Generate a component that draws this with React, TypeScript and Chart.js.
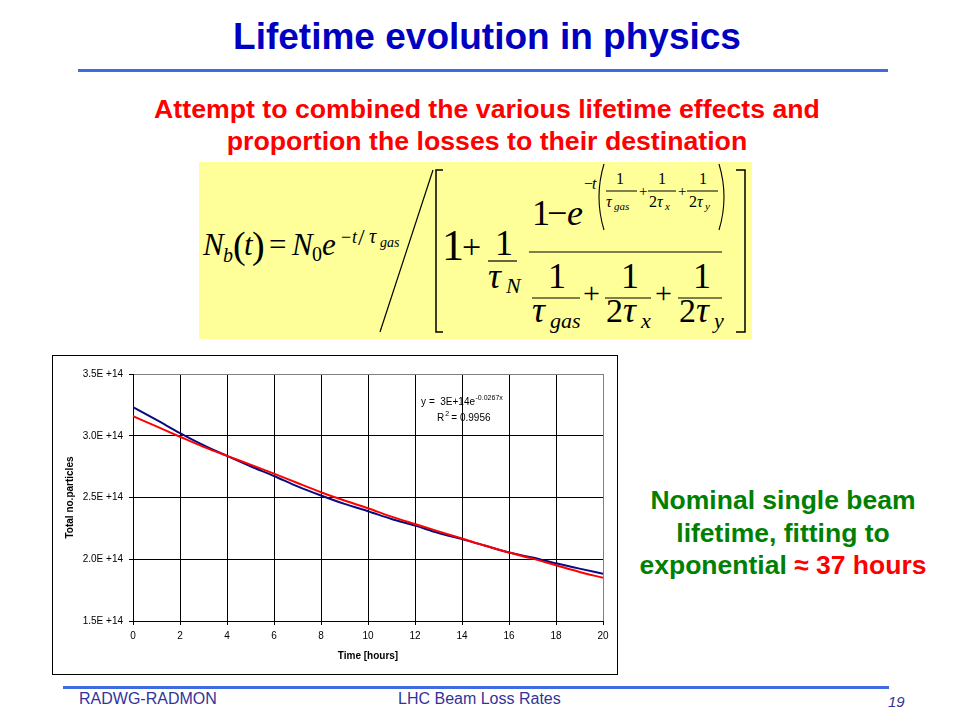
import React, { useEffect, useRef } from "react";
import { Chart, registerables } from "chart.js";

Chart.register(...registerables);

// ---- data ----
const HOURS = [0, 1, 2, 3, 4, 5, 6, 7, 8, 9, 10, 11, 12, 13, 14, 15, 16, 17, 18, 19, 20];
// simulated total number of particles (units of 1E14)
const SIMULATED = [3.231, 3.128, 3.022, 2.924, 2.837, 2.753, 2.674, 2.59, 2.516, 2.448, 2.389, 2.326, 2.272, 2.212, 2.163, 2.109, 2.054, 2.014, 1.967, 1.924, 1.883];
// exponential fit (units of 1E14)
const FIT = [3.158, 3.076, 2.992, 2.91, 2.837, 2.766, 2.693, 2.617, 2.543, 2.476, 2.413, 2.345, 2.285, 2.226, 2.168, 2.109, 2.054, 2.005, 1.951, 1.897, 1.85];
const X_TICKS = [0, 2, 4, 6, 8, 10, 12, 14, 16, 18, 20];
const Y_TICKS = [1.5e14, 2.0e14, 2.5e14, 3.0e14, 3.5e14];
const Y_TICK_LABELS = ["1.5E +14", "2.0E +14", "2.5E +14", "3.0E +14", "3.5E +14"];
const FIT_EQUATION = "y =  3E+14e";
const FIT_EXPONENT = "-0.0267x";
const FIT_R2 = "= 0.9956";
// annotation anchors in data units
const ANNOT_LINE1 = { x: 12.26, y: 3.25e14 };
const ANNOT_LINE2 = { x: 12.94, y: 3.12e14 };

const SANS = "'Liberation Sans', Arial, sans-serif";
const SERIF = "'Liberation Serif', 'Times New Roman', serif";

function ChartBox() {
  const ref = useRef<HTMLCanvasElement | null>(null);
  useEffect(() => {
    if (!ref.current) return;
    const annot = {
      id: "fitAnnot",
      afterDatasetsDraw(chart: any) {
        const { ctx, scales } = chart;
        const xs = scales.x, ys = scales.y;
        ctx.save();
        ctx.fillStyle = "#000";
        ctx.textBaseline = "alphabetic";
        ctx.textAlign = "left";
        ctx.font = `10px ${SANS}`;
        const x1 = xs.getPixelForValue(ANNOT_LINE1.x);
        const y1 = ys.getPixelForValue(ANNOT_LINE1.y);
        ctx.fillText(FIT_EQUATION, x1, y1);
        const w1 = ctx.measureText(FIT_EQUATION).width;
        ctx.font = `7px ${SANS}`;
        ctx.fillText(FIT_EXPONENT, x1 + w1 + 0.5, y1 - 5);
        const x2 = xs.getPixelForValue(ANNOT_LINE2.x);
        const y2 = ys.getPixelForValue(ANNOT_LINE2.y);
        ctx.font = `10px ${SANS}`;
        ctx.fillText("R", x2, y2);
        const wr = ctx.measureText("R").width;
        ctx.font = `7px ${SANS}`;
        ctx.fillText("2", x2 + wr + 1, y2 - 5);
        ctx.font = `10px ${SANS}`;
        ctx.fillText(FIT_R2, x2 + wr + 7, y2);
        ctx.restore();
      },
    };
    const chart = new Chart(ref.current, {
      type: "line",
      data: {
        datasets: [
          {
            label: "Fit",
            data: HOURS.map((h, i) => ({ x: h, y: FIT[i] * 1e14 })),
            borderColor: "#FF0000",
            borderWidth: 2,
            pointRadius: 0,
            cubicInterpolationMode: "monotone",
          },
          {
            label: "Simulation",
            data: HOURS.map((h, i) => ({ x: h, y: SIMULATED[i] * 1e14 })),
            borderColor: "#0A0A80",
            borderWidth: 2,
            pointRadius: 0,
            cubicInterpolationMode: "monotone",
          },
        ],
      },
      options: {
        animation: false,
        responsive: false,
        layout: { padding: { top: 18, right: 14, left: 0, bottom: 0 } },
        plugins: { legend: { display: false }, tooltip: { enabled: false } },
        scales: {
          x: {
            type: "linear",
            min: 0,
            max: 20,
            afterFit: (s: any) => { s.height = 53; },
            afterBuildTicks: (s: any) => { s.ticks = X_TICKS.map((v) => ({ value: v })); },
            ticks: {
              color: "#000",
              font: { family: SANS, size: 10 },
              padding: 5,
              maxRotation: 0,
              callback: (v: any) => String(v),
            },
            grid: {
              color: (c: any) => (c.tick && c.tick.value === 20 ? "#808080" : "#000"),
              tickColor: "#000",
              tickLength: 4,
              lineWidth: 1,
            },
            border: { display: true, color: "#000", width: 1 },
            title: {
              display: true,
              text: "Time [hours]",
              color: "#000",
              font: { family: SANS, size: 10, weight: "bold" },
              padding: { top: 0, bottom: 12 },
            },
          },
          y: {
            type: "linear",
            min: 1.5e14,
            max: 3.5e14,
            afterFit: (s: any) => { s.width = 80; },
            afterBuildTicks: (s: any) => { s.ticks = Y_TICKS.map((v) => ({ value: v })); },
            ticks: {
              color: "#000",
              font: { family: SANS, size: 10 },
              padding: 6,
              callback: (_v: any, i: number) => Y_TICK_LABELS[i],
            },
            grid: {
              color: (c: any) => (c.tick && c.tick.value === 3.5e14 ? "#808080" : "#000"),
              tickColor: "#000",
              tickLength: 4,
              lineWidth: 1,
            },
            border: { display: true, color: "#000", width: 1 },
            title: {
              display: true,
              text: "Total no.particles",
              color: "#000",
              font: { family: SANS, size: 10, weight: "bold" },
              padding: { top: 11, bottom: 0 },
            },
          },
        },
      },
      plugins: [annot],
    } as any);
    return () => chart.destroy();
  }, []);
  return (
    <div
      style={{
        position: "absolute",
        left: 52,
        top: 355,
        width: 566,
        height: 320,
        border: "1px solid #000",
        boxSizing: "border-box",
        background: "#fff",
      }}
    >
      <canvas ref={ref} width={564} height={318} style={{ display: "block", width: 564, height: 318 }} />
    </div>
  );
}

function T(props: { x: number; y: number; s: number; i?: boolean; children: React.ReactNode }) {
  return (
    <text x={props.x} y={props.y} fontSize={props.s} fontStyle={props.i ? "italic" : "normal"} fontFamily={SERIF} fill="#000">
      {props.children}
    </text>
  );
}

function Equation() {
  const L = (x1: number, y1: number, x2: number, y2: number, w = 1.2) => (
    <line x1={x1} y1={y1} x2={x2} y2={y2} stroke="#000" strokeWidth={w} />
  );
  return (
    <svg
      width={553}
      height={177}
      style={{ position: "absolute", left: 199, top: 162, background: "#FFFF99" }}
    >
      {/* left side */}
      <T x={4} y={93} s={31} i>N</T>
      <T x={24} y={100} s={20} i>b</T>
      <T x={34} y={96} s={38}>(</T>
      <T x={45} y={93} s={31} i>t</T>
      <T x={53} y={96} s={38}>)</T>
      <T x={70} y={93} s={31}>=</T>
      <T x={93} y={93} s={31} i>N</T>
      <T x={113} y={99} s={20}>0</T>
      <T x={123} y={93} s={31} i>e</T>
      <T x={142} y={81} s={18}>−</T>
      <T x={153} y={81} s={18} i>t</T>
      <T x={159} y={83} s={24}>/</T>
      <T x={170} y={81} s={20} i>τ</T>
      <T x={181} y={85} s={14} i>gas</T>
      {/* big slash */}
      {L(181, 170, 234, 8)}
      {/* brackets */}
      <path d="M 244 8 L 237 8 L 237 170 L 244 170" fill="none" stroke="#000" strokeWidth={1.5} />
      <path d="M 537 8 L 546 8 L 546 170 L 537 170" fill="none" stroke="#000" strokeWidth={1.5} />
      <T x={243} y={98} s={44}>1</T>
      <T x={263} y={96} s={34}>+</T>
      {/* 1 / tau_N */}
      <T x={296} y={93} s={36}>1</T>
      {L(289, 99, 318, 99)}
      <T x={289} y={126} s={36} i>τ</T>
      <T x={307} y={131} s={22} i>N</T>
      {/* main fraction bar */}
      {L(330, 90, 523, 90)}
      {/* numerator */}
      <T x={333} y={63} s={36}>1</T>
      <T x={348} y={63} s={36}>−</T>
      <T x={368} y={63} s={36} i>e</T>
      <T x={385} y={27} s={16}>−</T>
      <T x={393} y={27} s={16} i>t</T>
      <path d="M 405 2 Q 395 35 405 68" fill="none" stroke="#000" strokeWidth={1.1} />
      <T x={417} y={22} s={16}>1</T>
      {L(407, 29, 438, 29, 1)}
      <T x={407} y={45} s={16} i>τ</T>
      <T x={415} y={48} s={11} i>gas</T>
      <T x={440} y={34} s={15}>+</T>
      <T x={459} y={22} s={16}>1</T>
      {L(449, 29, 477, 29, 1)}
      <T x={450} y={45} s={16}>2</T>
      <T x={458} y={45} s={16} i>τ</T>
      <T x={466} y={48} s={11} i>x</T>
      <T x={479} y={34} s={15}>+</T>
      <T x={500} y={22} s={16}>1</T>
      {L(488, 29, 519, 29, 1)}
      <T x={490} y={45} s={16}>2</T>
      <T x={498} y={45} s={16} i>τ</T>
      <T x={506} y={48} s={11} i>y</T>
      <path d="M 520 2 Q 530 35 520 68" fill="none" stroke="#000" strokeWidth={1.1} />
      {/* denominator */}
      <T x={349} y={126} s={36}>1</T>
      {L(333, 136, 381, 136)}
      <T x={333} y={160} s={36} i>τ</T>
      <T x={351} y={166} s={22} i>gas</T>
      <T x={384} y={141} s={30}>+</T>
      <T x={422} y={126} s={36}>1</T>
      {L(406, 136, 452, 136)}
      <T x={407} y={160} s={34}>2</T>
      <T x={424} y={160} s={36} i>τ</T>
      <T x={442} y={166} s={22} i>x</T>
      <T x={456} y={141} s={30}>+</T>
      <T x={494} y={126} s={36}>1</T>
      {L(479, 136, 523, 136)}
      <T x={480} y={160} s={34}>2</T>
      <T x={497} y={160} s={36} i>τ</T>
      <T x={515} y={166} s={22} i>y</T>
    </svg>
  );
}

export default function App() {
  const abs = (extra: React.CSSProperties): React.CSSProperties => ({ position: "absolute", ...extra });
  return (
    <div style={{ position: "absolute", left: 0, top: 0, width: 960, height: 720, background: "#fff", fontFamily: SANS, overflow: "hidden" }}>
      <div style={abs({ left: 7, width: 960, top: 15, textAlign: "center", fontSize: 37, fontWeight: "bold", color: "#0000C0", lineHeight: "44px" })}>
        Lifetime evolution in physics
      </div>
      <div style={abs({ left: 78, top: 69, width: 810, height: 3, background: "#4169E1" })} />
      <div style={abs({ left: 7, width: 960, top: 93, textAlign: "center", fontSize: 26.7, fontWeight: "bold", color: "#FF0000", lineHeight: "32px" })}>
        Attempt to combined the various lifetime effects and
        <br />
        proportion the losses to their destination
      </div>
      <Equation />
      <ChartBox />
      <div style={abs({ left: 618, width: 330, top: 484, textAlign: "center", fontSize: 26.5, fontWeight: "bold", color: "#008000", lineHeight: "32.5px" })}>
        Nominal single beam
        <br />
        lifetime, fitting to
        <br />
        exponential <span style={{ color: "#FF0000" }}>≈ 37 hours</span>
      </div>
      <div style={abs({ left: 63, top: 686, width: 826, height: 3, background: "#4169E1" })} />
      <div style={abs({ left: 79, top: 690, fontSize: 16, color: "#333399" })}>RADWG-RADMON</div>
      <div style={abs({ left: 398, top: 690, fontSize: 16, color: "#333399" })}>LHC Beam Loss Rates</div>
      <div style={abs({ left: 888, top: 693, fontSize: 15, fontStyle: "italic", color: "#333399" })}>19</div>
    </div>
  );
}
